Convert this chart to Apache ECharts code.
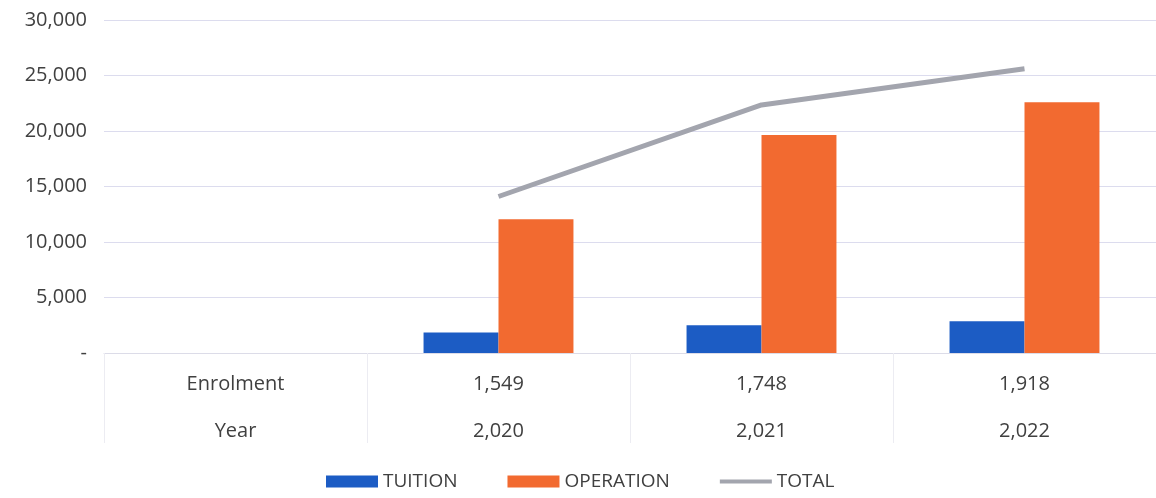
<!DOCTYPE html>
<html>
<head>
<meta charset="utf-8">
<script src="https://cdn.jsdelivr.net/npm/echarts@6/dist/echarts.min.js"></script>
<style>
html,body{margin:0;padding:0;background:#fff;}
#c{width:1156px;height:498px;}
</style>
</head>
<body>
<div id="c"></div>
<script>
const enrolment = ['Enrolment', '1,549', '1,748', '1,918'];
const years = ['Year', '2,020', '2,021', '2,022'];
const tuition = [null, 1850, 2500, 2850];
const operation = [null, 12050, 19650, 22600];
const total = [null, 14100, 22350, 25600];
const yTicks = [0, 5000, 10000, 15000, 20000, 25000, 30000];

const categories = enrolment.map((e, i) => e + '\n' + years[i]);
const font = '"Open Sans", sans-serif';

const chart = echarts.init(document.getElementById('c'));
chart.setOption({
  animation: false,
  textStyle: { fontFamily: font },
  grid: { left: 104, right: -2, top: 20, bottom: 145, containLabel: false },
  legend: {
    bottom: 2,
    left: 321,
    itemWidth: 52,
    itemHeight: 12,
    itemGap: 50,
    symbolKeepAspect: true,
    textStyle: { fontSize: 19, color: '#404040', fontFamily: font },
    data: [
      { name: 'TUITION', icon: 'rect' },
      { name: 'OPERATION', icon: 'rect' },
      { name: 'TOTAL', icon: 'path://M0,0 L52,0 L52,4 L0,4 Z' }
    ]
  },
  xAxis: {
    type: 'category',
    data: categories,
    axisLine: { show: true, lineStyle: { color: '#dcdce8', width: 1 } },
    axisTick: { show: true, interval: 0, length: 90, lineStyle: { color: '#ececf2' } },
    axisLabel: { interval: 0, fontSize: 20, color: '#404040', lineHeight: 47, margin: 8, fontFamily: font }
  },
  yAxis: {
    type: 'value',
    min: yTicks[0],
    max: yTicks[yTicks.length - 1],
    interval: 5000,
    axisLine: { show: false },
    axisTick: { show: false },
    axisLabel: {
      fontSize: 20, color: '#404040', margin: 17, fontFamily: font,
      formatter: v => v === 0 ? '-' : v.toLocaleString('en-US')
    },
    splitLine: { lineStyle: { color: '#dcdcee', width: 1 } }
  },
  series: [
    {
      name: 'TUITION', type: 'bar', data: tuition,
      barGap: '0%', barCategoryGap: '43%',
      itemStyle: { color: '#1c5cc4' }
    },
    {
      name: 'OPERATION', type: 'bar', data: operation,
      barGap: '0%', barCategoryGap: '43%',
      itemStyle: { color: '#f26a30' }
    },
    {
      name: 'TOTAL', type: 'line', data: total,
      symbol: 'none', showSymbol: false,
      lineStyle: { color: '#a3a5ae', width: 5 },
      itemStyle: { color: '#a3a5ae' }
    }
  ]
});
</script>
</body>
</html>
